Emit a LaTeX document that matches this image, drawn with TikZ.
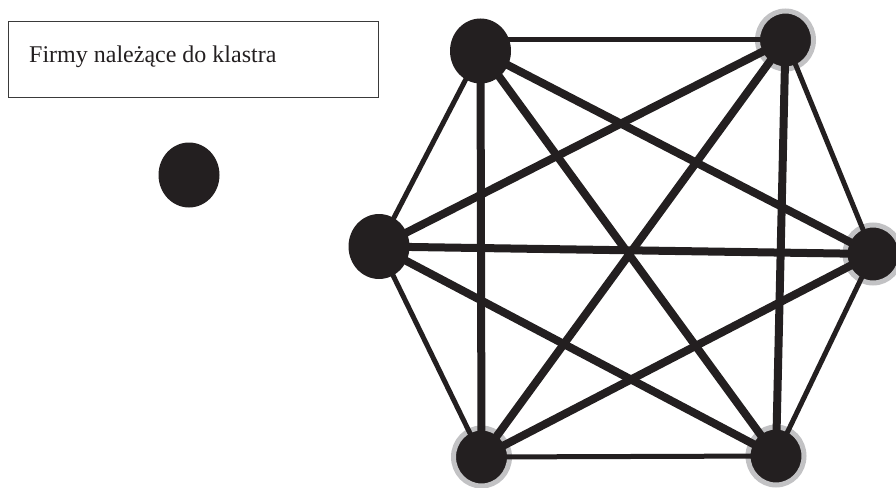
\documentclass[tikz,border=0pt]{standalone}
\usepackage{fontspec}
\setmainfont{Liberation Serif}
\usepackage{xcolor}
\definecolor{clblack}{HTML}{231F20}
\definecolor{clring}{HTML}{C2C2C4}
\definecolor{clframe}{HTML}{3A3A3A}
\usepackage{tikz}
\usetikzlibrary{shapes.geometric}

\begin{document}
\begin{tikzpicture}[x=1pt,y=-1pt,
  firm/.style={ellipse,fill=clblack,minimum width=61pt,minimum height=65pt,inner sep=0pt},
  firmring/.style={ellipse,fill=clblack,draw=clring,line width=5pt,
                   minimum width=56pt,minimum height=58pt,inner sep=0pt},
  tie/.style={draw=clblack,line width=5pt},
  strongtie/.style={draw=clblack,line width=8pt}]
  \useasboundingbox (0,0) rectangle (896,487);

  %% Legend
  \node[draw=clframe,line width=1pt,minimum width=370pt,minimum height=75pt,
        inner sep=0pt] (legend) at (193,59.5) {};
  \node[anchor=base west,inner sep=0pt,text=clblack,
        font=\fontsize{24}{28}\selectfont] (legendtext) at (29,63)
    {Firmy należące do klastra};
  \node[firm] (sample) at (189,175) {};

  %% Cluster firms
  \node[firm]     (tl) at (480.5,51)  {};
  \node[firmring] (tr) at (785.5,40)  {};
  \node[firm]     (l)  at (379,246.5) {};
  \node[firmring] (r)  at (873,254)   {};
  \node[firmring] (bl) at (481.5,457) {};
  \node[firmring] (br) at (776,456)   {};

  %% Outer ties
  \draw[tie] (tl.center |- tr.center) -- (tr.center);
  \draw[tie] (tr.center) -- (r.center);
  \draw[tie] (r.center)  -- (br.center);
  \draw[tie] (br.center) -- (bl.center);
  \draw[tie] (bl.center) -- (l.center);
  \draw[tie] (l.center)  -- (tl.center);

  %% Inner ties
  \draw[strongtie] (tl.center) -- (bl.center);
  \draw[strongtie] (tl.center) -- (r.center);
  \draw[strongtie] (tl.center) -- (br.center);
  \draw[strongtie] (tr.center) -- (l.center);
  \draw[strongtie] (tr.center) -- (bl.center);
  \draw[strongtie] (tr.center) -- (br.center);
  \draw[strongtie] (l.center)  -- (r.center);
  \draw[strongtie] (l.center)  -- (br.center);
  \draw[strongtie] (r.center)  -- (bl.center);
\end{tikzpicture}
\end{document}
